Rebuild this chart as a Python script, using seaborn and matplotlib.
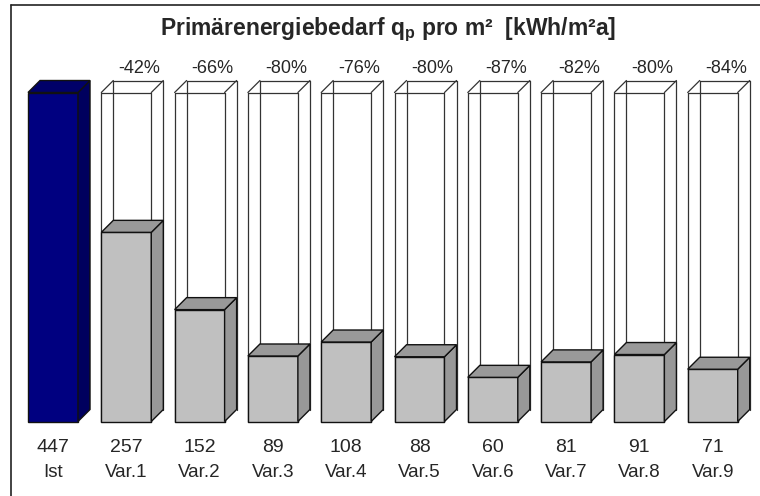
import matplotlib
matplotlib.use('Agg')
import matplotlib.pyplot as plt
import seaborn as sns
from matplotlib.patches import Polygon
from matplotlib.lines import Line2D

# data
categories = ['Ist', 'Var.1', 'Var.2', 'Var.3', 'Var.4', 'Var.5', 'Var.6', 'Var.7', 'Var.8', 'Var.9']
values = [447, 257, 152, 89, 108, 88, 60, 81, 91, 71]
change_labels = ['', '-42%', '-66%', '-80%', '-76%', '-80%', '-87%', '-82%', '-80%', '-84%']
reference = 447  # height of the glass boxes (Ist)

sns.set_style('white')
plt.rcParams['font.family'] = ['Liberation Sans', 'DejaVu Sans']
plt.rcParams['mathtext.fontset'] = 'custom'
plt.rcParams['mathtext.bf'] = 'Liberation Sans:bold'
plt.rcParams['mathtext.rm'] = 'Liberation Sans'

fig = plt.figure(figsize=(7.6, 4.96), dpi=100)
ax = fig.add_axes([0, 0, 1, 1])

front = ['#000080'] + ['#C0C0C0'] * 9
side = ['#00005E'] + ['#989898'] * 9
top = ['#000068'] + ['#999999'] * 9

sns.barplot(x=categories, y=values, hue=categories, palette=front, width=0.682,
            saturation=1, edgecolor='#111111', linewidth=1.0, legend=False, ax=ax)

dx, dy = 0.164, 16.3  # depth of the 3d effect

for i, p in enumerate(ax.patches):
    p.set_zorder(3)
    x0 = p.get_x()
    x1 = x0 + p.get_width()
    h = p.get_height()
    # side and top faces
    ax.add_patch(Polygon([(x1, 0), (x1 + dx, dy), (x1 + dx, h + dy), (x1, h)],
                         closed=True, facecolor=side[i], edgecolor='#111111', lw=1.0, zorder=3))
    ax.add_patch(Polygon([(x0, h), (x0 + dx, h + dy), (x1 + dx, h + dy), (x1, h)],
                         closed=True, facecolor=top[i], edgecolor='#111111', lw=1.0, zorder=3))
    if i == 0:
        continue
    # glass box up to the reference value
    H = reference
    segs = [
        [(x0, 0), (x0, H)], [(x1, 0), (x1, H)],
        [(x0 + dx, dy), (x0 + dx, H + dy)], [(x1 + dx, dy), (x1 + dx, H + dy)],
        [(x0, H), (x1, H)], [(x0 + dx, H + dy), (x1 + dx, H + dy)],
        [(x0, H), (x0 + dx, H + dy)], [(x1, H), (x1 + dx, H + dy)],
    ]
    for s in segs:
        ax.plot([s[0][0], s[1][0]], [s[0][1], s[1][1]], color='#333333', lw=0.9, zorder=1)

ax.set_xlim(-53 / 73.3, (760 - 53) / 73.3)
ax.set_ylim(-74.5 / 0.736, (496 - 74.5) / 0.736)

for i, (c, v, pct) in enumerate(zip(categories, values, change_labels)):
    ax.text(i + 0.18, 1 - 73 / 496, pct, transform=ax.get_xaxis_transform(),
            ha='center', va='baseline', fontsize=13)
    ax.text(i, 1 - 452 / 496, str(v), transform=ax.get_xaxis_transform(),
            ha='center', va='baseline', fontsize=14)
    ax.text(i, 1 - 477 / 496, c, transform=ax.get_xaxis_transform(),
            ha='center', va='baseline', fontsize=13.5)

ax.axis('off')

# chart frame (only top and left edges fall inside the picture)
fig.add_artist(Line2D([10.5 / 760, 10.5 / 760], [0, 1 - 5 / 496], color='#222222', lw=1.2,
                      transform=fig.transFigure))
fig.add_artist(Line2D([10.5 / 760, 1], [1 - 5 / 496, 1 - 5 / 496], color='#222222', lw=1.2,
                      transform=fig.transFigure))

fig.text(388 / 760, 1 - 35 / 496, r'Primärenergiebedarf q$_\mathbf{p}$ pro m²  [kWh/m²a]',
         ha='center', va='baseline', fontsize=16.5, fontweight='bold')

fig.savefig('out.png', dpi=100)
